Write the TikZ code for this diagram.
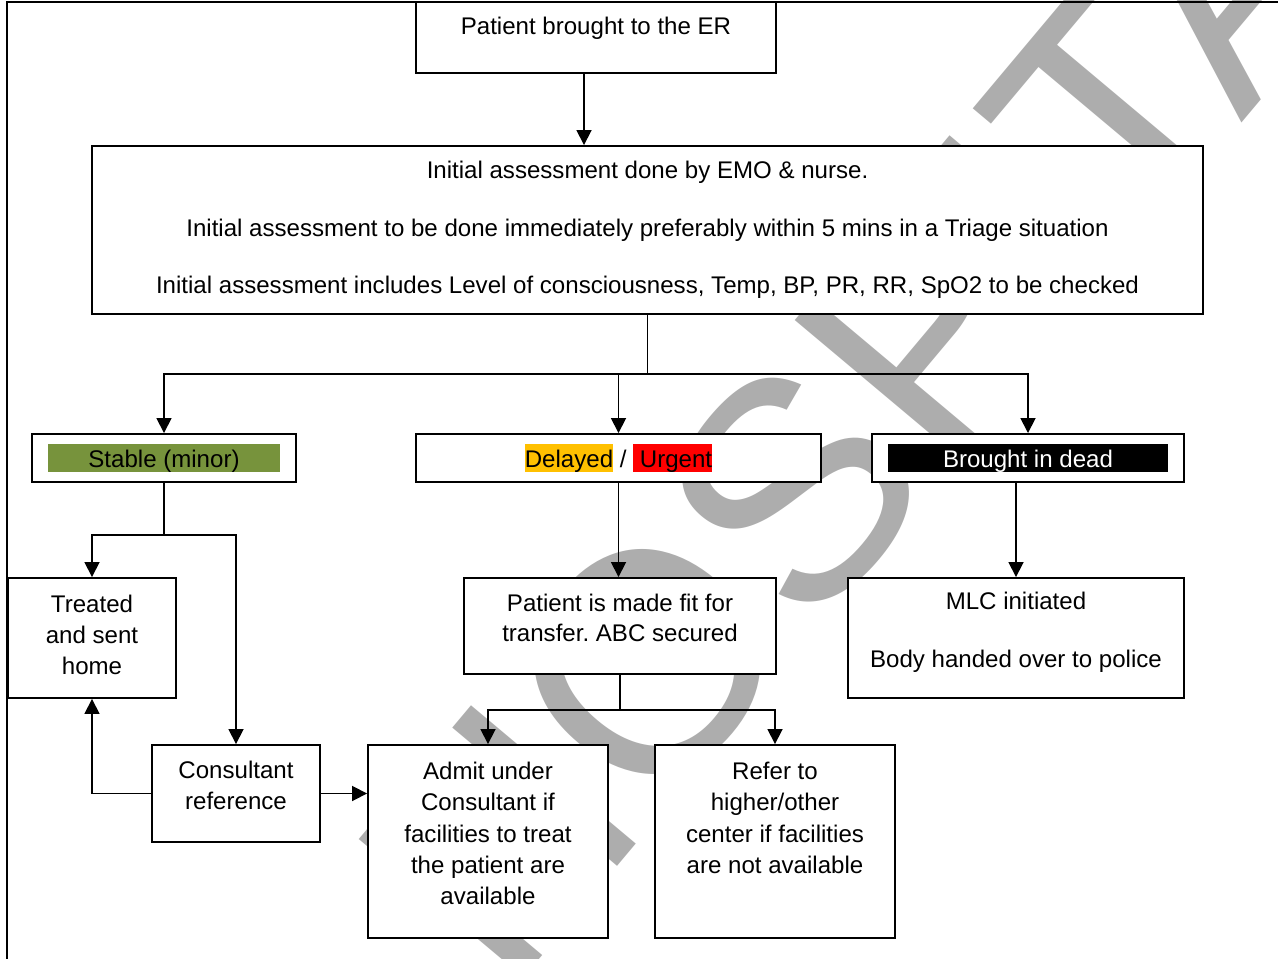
\documentclass[tikz,border=0pt]{standalone}
\usepackage{fontspec}
\setmainfont{Liberation Sans}
\frenchspacing
\usetikzlibrary{arrows.meta}

\definecolor{stablegreen}{HTML}{77933C}
\definecolor{delayorange}{HTML}{FFC000}
\definecolor{urgentred}{HTML}{FF0000}
\definecolor{wmgray}{HTML}{ADADAD}

\newcommand{\hlbox}[2]{{\setlength{\fboxsep}{0pt}\colorbox{#1}{\rule[-0.08cm]{0pt}{0.54cm}#2}}}

\tikzset{
  box/.style={draw, line width=1.1pt, fill=white, align=center, inner sep=0pt,
    font=\fontsize{13.7pt}{17.8pt}\selectfont},
  textbox/.style={box, text depth=0.32cm},
  arr/.style={line width=1pt, -{Triangle[length=0.3cm,width=0.3cm]}},
  link/.style={line width=1pt},
  outerline/.style={line width=1.2pt},
  watermark/.style={text=wmgray, rotate=50, inner sep=0pt,
    font=\fontsize{178pt}{178pt}\selectfont}
}

\begin{document}
\begin{tikzpicture}[x=0.02cm, y=-0.02cm]
    \useasboundingbox (0,0) rectangle (1278,959);

    % watermark behind everything
    \node[watermark] (wm) at (915,345) {HOSPITAL};

    \draw[outerline] (7,959) -- (7,2) -- (1278,2);

    % boxes
    \node[box, minimum width=7.2cm, minimum height=1.42cm, text depth=0.45cm] (er) at (596,37.5) {Patient brought to the ER};
    \node[box, minimum width=22.22cm, minimum height=3.36cm] (init) at (647.5,230)
      {Initial assessment done by EMO \& nurse.\\[15pt]
       Initial assessment to be done immediately preferably within 5 mins in a Triage situation\\[15pt]
       Initial assessment includes Level of consciousness, Temp, BP, PR, RR, SpO2 to be checked};

    \node[box, minimum width=5.28cm, minimum height=0.96cm] (stable) at (164,458)
      {\hlbox{stablegreen}{\makebox[4.66cm]{Stable (minor)}}};
    \node[box, minimum width=8.1cm, minimum height=0.96cm] (delayed) at (618.5,458)
      {\hlbox{delayorange}{Delayed} / \hlbox{urgentred}{\ Urgent}};
    \node[box, minimum width=6.24cm, minimum height=0.96cm] (bid) at (1028,458)
      {\hlbox{black}{\makebox[5.62cm]{\color{white}Brought in dead}}};

    \node[box, text depth=0.12cm, minimum width=3.36cm, minimum height=2.4cm] (treated) at (92,638) {Treated\\and sent\\home};
    \node[textbox, minimum width=6.24cm, minimum height=1.92cm] (patient) at (620,626) {Patient is made fit for\\[-1pt]transfer. ABC secured};
    \node[textbox, minimum width=6.72cm, minimum height=2.4cm] (mlc) at (1016,638) {MLC initiated\\[15pt]Body handed over to police};

    \node[textbox, minimum width=3.36cm, minimum height=1.94cm] (consult) at (236,793.5) {Consultant\\reference};
    \node[textbox, minimum width=4.8cm, minimum height=3.86cm] (admit) at (488,841.5)
      {Admit under\\Consultant if\\facilities to treat\\the patient are\\available};
    \node[textbox, minimum width=4.8cm, minimum height=3.86cm] (refer) at (775,841.5)
      {Refer to\\higher/other\\center if facilities\\are not available\\~};

    % connectors
    \draw[arr] ([xshift=-0.24cm]er.south) -- ([xshift=-0.24cm]er.south |- init.north);

    \coordinate (split) at (init.south |- 0,374);
    \draw[link] (init.south) -- (split);
    \draw[arr] (split) -| (stable.north);
    \draw[arr] (split) -| (delayed.north);
    \draw[arr] (split) -| (bid.north);

    \coordinate (sfork) at (stable.south |- 0,535);
    \draw[link] (stable.south) -- (sfork);
    \draw[arr] (sfork) -| (treated.north);
    \draw[arr] (sfork) -| (consult.north);
    \draw[arr] (consult.west) -| (treated.south);
    \draw[arr] (consult.east) -- (consult.east -| admit.west);

    \draw[arr] (delayed.south) -- (delayed.south |- patient.north);
    \coordinate (pfork) at (patient.south |- 0,710);
    \draw[link] (patient.south) -- (pfork);
    \draw[arr] (pfork) -| (admit.north);
    \draw[arr] (pfork) -| (refer.north);

    \draw[arr] (bid.south -| mlc.north) -- (mlc.north);
\end{tikzpicture}
\end{document}
